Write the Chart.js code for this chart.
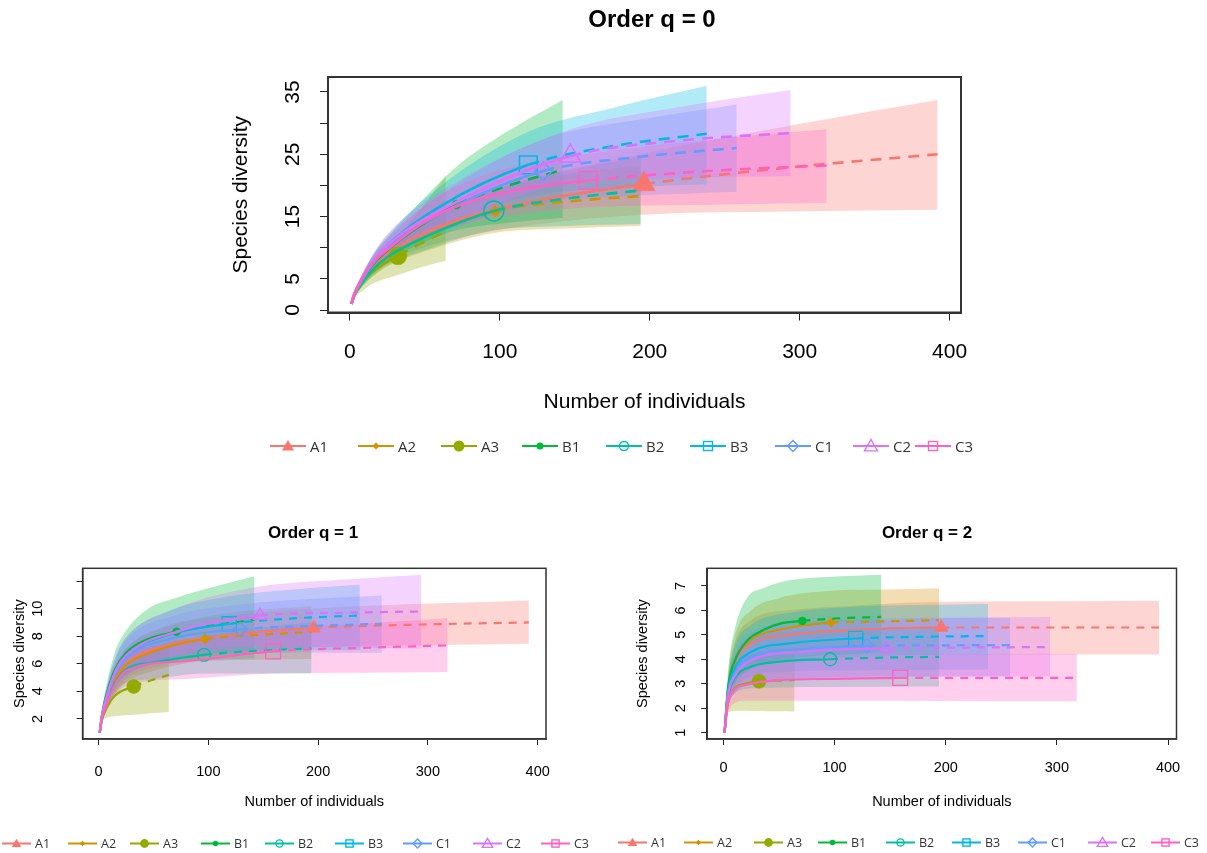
<!DOCTYPE html>
<html><head><meta charset="utf-8">
<script src="https://cdn.jsdelivr.net/npm/chart.js@4.4.1/dist/chart.umd.min.js"></script>
<style>
body{margin:0;background:#fff;}
#page{position:relative;width:1207px;height:853px;overflow:hidden;font-family:"Liberation Sans",Arial,sans-serif;background:#fff;}
canvas{position:absolute;left:0;top:0;}
.title{position:absolute;font-weight:bold;color:#000;transform:translate(-50%,-50%);white-space:nowrap;}
.leg{position:absolute;display:flex;align-items:center;white-space:nowrap;color:#333;font-family:"Open Sans",sans-serif;transform:translateY(-50%);}
.leg svg{display:block;margin-right:4px;}
</style></head>
<body><div id="page">
<canvas id="c0" width="1207" height="853"></canvas>
<canvas id="c1" width="1207" height="853"></canvas>
<canvas id="c2" width="1207" height="853"></canvas>
<div class="title" style="left:652px;top:19px;font-size:24px">Order q = 0</div>
<div class="title" style="left:313px;top:533px;font-size:17px">Order q = 1</div>
<div class="title" style="left:927px;top:533px;font-size:17px">Order q = 2</div>
</div>
<script>
// ---------------- DATA ----------------
const groups = ['A1','A2','A3','B1','B2','B3','C1','C2','C3'];
const sampleSize = [196, 97, 32, 71, 96, 119, 129, 147, 159];
const xTicks = [0, 100, 200, 300, 400];
const xTickLabels = ['0', '100', '200', '300', '400'];
const q0YTicks = [0, 5, 10, 15, 20, 25, 30, 35];
const q0YLabels = ['0', '5', '', '15', '', '25', '', '35'];
const q1YTicks = [2, 4, 6, 8, 10, 12];
const q1YLabels = ['2', '4', '6', '8', '10', ''];
const q2YTicks = [1, 2, 3, 4, 5, 6, 7];
const q2YLabels = ['1', '2', '3', '4', '5', '6', '7'];

// Order q = 0 : sample sizes, estimates, lower and upper bounds
const q0X = [
  [1, 3, 8, 15, 25, 60, 120, 196, 294, 392],
  [1, 3, 8, 15, 25, 50, 97, 145, 194],
  [1, 3, 8, 15, 32, 48, 64],
  [1, 3, 8, 15, 25, 45, 71, 106, 142],
  [1, 3, 8, 15, 25, 50, 96, 145, 194],
  [1, 3, 8, 15, 25, 60, 119, 178, 238],
  [1, 3, 8, 15, 25, 65, 129, 194, 258],
  [1, 3, 8, 15, 25, 70, 147, 220, 294],
  [1, 3, 8, 15, 25, 50, 80, 120, 159, 238, 318]
];
const q0Est = [
  [1, 2.4, 4.4, 6.6, 9.0, 13.4, 17.3, 20.2, 22.9, 25.0],
  [1, 2.4, 4.3, 6.3, 8.4, 11.8, 15.9, 17.4, 18.3],
  [1, 2.3, 4.3, 6.1, 8.7, 10.8, 12.6],
  [1, 2.5, 4.7, 7.2, 9.6, 13.2, 16.9, 20.0, 22.5],
  [1, 2.4, 4.3, 6.4, 8.5, 11.7, 15.9, 17.9, 19.2],
  [1, 2.6, 4.9, 7.6, 10.4, 16.6, 23.3, 26.4, 28.3],
  [1, 2.5, 4.8, 7.3, 10.0, 16.0, 22.3, 24.6, 26.0],
  [1, 2.6, 4.9, 7.6, 10.4, 17.2, 24.7, 27.2, 28.4],
  [1, 2.6, 5.0, 7.5, 9.7, 14.2, 17.4, 19.6, 20.8, 22.3, 23.2]
];
const q0Lo = [
  [1, 2.1, 3.8, 5.6, 7.6, 10.8, 13.6, 15.3, 15.8, 16.1],
  [1, 2.1, 3.7, 5.3, 7.0, 9.4, 12.4, 13.1, 13.5],
  [1, 2.0, 3.0, 4.2, 5.6, 6.9, 7.9],
  [1, 2.2, 4.0, 6.0, 7.8, 10.4, 12.8, 14.0, 14.8],
  [1, 2.1, 3.7, 5.4, 7.2, 9.6, 12.8, 13.5, 13.8],
  [1, 2.3, 4.2, 6.4, 8.8, 13.4, 18.2, 19.6, 20.2],
  [1, 2.2, 4.1, 6.2, 8.4, 12.8, 17.2, 18.4, 19.0],
  [1, 2.3, 4.2, 6.4, 8.6, 14.0, 20.4, 21.2, 21.5],
  [1, 2.3, 4.3, 6.4, 8.2, 11.6, 14.0, 15.6, 16.5, 16.9, 17.2]
];
const q0Hi = [
  [1, 2.7, 5.0, 7.6, 10.4, 16.0, 21.0, 25.1, 29.6, 33.7],
  [1, 2.7, 4.9, 7.3, 9.8, 14.2, 19.4, 21.8, 23.2],
  [1, 2.6, 5.6, 8.0, 11.8, 16.4, 21.5],
  [1, 2.8, 5.4, 8.6, 11.6, 16.8, 23.0, 28.8, 33.7],
  [1, 2.7, 4.9, 7.4, 9.8, 13.8, 19.0, 22.3, 24.6],
  [1, 2.9, 5.6, 8.8, 12.0, 19.8, 28.6, 32.6, 36.0],
  [1, 2.8, 5.5, 8.4, 11.6, 19.2, 27.4, 30.6, 33.0],
  [1, 2.9, 5.6, 8.8, 12.2, 20.4, 29.0, 32.6, 35.3],
  [1, 2.9, 5.7, 8.6, 11.2, 16.8, 20.8, 23.6, 25.1, 27.3, 29.0]
];

// Order q = 1
const q1X = [
  [1, 3, 8, 15, 25, 60, 120, 196, 294, 392],
  [1, 3, 8, 15, 25, 50, 97, 145, 194],
  [1, 3, 8, 15, 32, 48, 64],
  [1, 3, 8, 15, 25, 45, 71, 106, 142],
  [1, 3, 8, 15, 25, 50, 96, 145, 194],
  [1, 3, 8, 15, 25, 60, 119, 178, 238],
  [1, 3, 8, 15, 25, 65, 129, 194, 258],
  [1, 3, 8, 15, 25, 70, 147, 220, 294],
  [1, 3, 8, 15, 25, 80, 159, 238, 318]
];
const q1Est = [
  [1, 2.1, 3.6, 4.9, 6.0, 7.3, 8.1, 8.6, 8.85, 9.0],
  [1, 2.1, 3.5, 4.8, 5.9, 6.9, 7.8, 8.1, 8.3],
  [1, 1.9, 2.9, 3.7, 4.35, 4.8, 5.2],
  [1, 2.3, 4.0, 5.6, 6.8, 7.8, 8.33, 8.8, 9.2],
  [1, 2.0, 3.3, 4.6, 5.6, 6.1, 6.65, 6.95, 7.1],
  [1, 2.2, 3.8, 5.4, 6.6, 8.0, 8.9, 9.3, 9.5],
  [1, 2.2, 3.7, 5.2, 6.4, 7.8, 8.5, 8.75, 8.9],
  [1, 2.2, 3.8, 5.4, 6.6, 8.3, 9.5, 9.7, 9.8],
  [1, 2.0, 3.2, 4.5, 5.5, 6.2, 6.9, 7.15, 7.33]
];
const q1Lo = [
  [1, 1.9, 3.0, 4.0, 4.9, 5.9, 6.7, 7.2, 7.35, 7.45],
  [1, 1.9, 2.9, 3.9, 4.7, 5.5, 6.2, 6.3, 6.35],
  [1, 1.7, 2.1, 2.2, 2.3, 2.4, 2.5],
  [1, 2.0, 3.2, 4.3, 5.2, 5.9, 6.2, 6.3, 6.4],
  [1, 1.8, 2.8, 3.8, 4.6, 4.9, 5.3, 5.3, 5.3],
  [1, 1.9, 3.1, 4.4, 5.3, 6.3, 6.9, 7.0, 7.0],
  [1, 1.9, 3.0, 4.2, 5.1, 6.2, 6.7, 6.8, 6.8],
  [1, 1.9, 3.1, 4.4, 5.3, 6.6, 7.3, 7.2, 7.1],
  [1, 1.8, 2.7, 3.6, 4.4, 4.9, 5.3, 5.35, 5.4]
];
const q1Hi = [
  [1, 2.3, 4.2, 5.8, 7.1, 8.7, 9.5, 10.0, 10.35, 10.6],
  [1, 2.3, 4.1, 5.7, 7.1, 8.3, 9.4, 9.9, 10.2],
  [1, 2.1, 3.7, 5.2, 6.4, 6.8, 7.1],
  [1, 2.6, 4.8, 6.9, 8.4, 10.0, 10.8, 11.6, 12.35],
  [1, 2.2, 3.8, 5.4, 6.6, 7.3, 8.0, 8.6, 9.0],
  [1, 2.5, 4.5, 6.4, 7.9, 9.7, 10.9, 11.4, 11.74],
  [1, 2.5, 4.4, 6.2, 7.7, 9.4, 10.3, 10.7, 10.96],
  [1, 2.5, 4.5, 6.4, 7.9, 10.0, 11.6, 12.1, 12.47],
  [1, 2.2, 3.7, 5.4, 6.6, 7.5, 8.5, 8.9, 9.3]
];

// Order q = 2
const q2X = [
  [1, 4, 10, 25, 60, 120, 196, 294, 392],
  [1, 4, 10, 25, 50, 97, 145, 194],
  [1, 4, 10, 20, 32, 48, 64],
  [1, 4, 10, 21, 36, 51, 71, 106, 142],
  [1, 4, 10, 25, 50, 96, 145, 194],
  [1, 4, 10, 25, 60, 119, 178, 238],
  [1, 4, 10, 25, 65, 129, 194, 258],
  [1, 4, 10, 25, 70, 147, 220, 294],
  [1, 4, 10, 21, 50, 100, 159, 238, 318]
];
const q2Est = [
  [1, 2.6, 3.8, 4.6, 5.0, 5.2, 5.3, 5.3, 5.3],
  [1, 2.7, 3.9, 4.8, 5.2, 5.5, 5.55, 5.6],
  [1, 2.2, 2.8, 3.0, 3.1, 3.13, 3.15],
  [1, 2.8, 3.9, 4.75, 5.2, 5.46, 5.57, 5.68, 5.73],
  [1, 2.4, 3.2, 3.7, 3.9, 4.0, 4.07, 4.1],
  [1, 2.6, 3.6, 4.3, 4.65, 4.85, 4.92, 4.95],
  [1, 2.5, 3.4, 4.1, 4.4, 4.55, 4.57, 4.58],
  [1, 2.5, 3.3, 3.95, 4.3, 4.45, 4.48, 4.5],
  [1, 2.2, 2.76, 2.96, 3.15, 3.2, 3.24, 3.24, 3.24]
];
const q2Lo = [
  [1, 2.2, 3.0, 3.6, 3.9, 4.1, 4.2, 4.2, 4.2],
  [1, 2.2, 3.0, 3.6, 3.9, 4.1, 4.2, 4.2],
  [1, 1.8, 1.9, 1.9, 1.88, 1.87, 1.86],
  [1, 2.3, 3.0, 3.5, 3.8, 4.0, 4.1, 4.2, 4.3],
  [1, 2.0, 2.6, 2.8, 2.85, 2.87, 2.88, 2.89],
  [1, 2.1, 2.8, 3.3, 3.5, 3.55, 3.57, 3.58],
  [1, 2.0, 2.6, 3.0, 3.2, 3.3, 3.3, 3.3],
  [1, 2.0, 2.6, 3.0, 3.2, 3.3, 3.3, 3.3],
  [1, 1.8, 2.2, 2.3, 2.3, 2.3, 2.3, 2.28, 2.28]
];
const q2Hi = [
  [1, 3.0, 4.6, 5.6, 6.0, 6.2, 6.35, 6.37, 6.39],
  [1, 3.2, 4.9, 6.0, 6.5, 6.8, 6.85, 6.9],
  [1, 2.6, 3.7, 4.1, 4.2, 4.2, 4.2],
  [1, 3.4, 5.2, 6.5, 6.9, 7.15, 7.3, 7.4, 7.46],
  [1, 2.9, 4.1, 4.8, 5.1, 5.2, 5.3, 5.35],
  [1, 3.1, 4.5, 5.4, 5.9, 6.15, 6.22, 6.26],
  [1, 3.0, 4.2, 5.1, 5.5, 5.65, 5.7, 5.7],
  [1, 3.0, 4.1, 4.9, 5.4, 5.6, 5.7, 5.73],
  [1, 2.6, 3.3, 3.6, 3.9, 4.1, 4.2, 4.22, 4.23]
];

// ---------------- STYLE ----------------
const colors = ['#F8766D','#D39200','#93AA00','#00BA38','#00C19F','#00B9E3','#619CFF','#DB72FB','#FF61C3'];
const markerStyle = ['triangle','rectRot','circle','circle','circle','rect','rectRot','triangle','rect'];
const markerFilled = [true, true, true, true, false, false, false, false, false];
const markerSizeBig = [13, 6, 9, 4.5, 10, 12.5, 9, 12, 12.5];
const markerSizeSmall = [8, 5, 7, 4, 6.5, 10, 7, 7.5, 10.5];

function hexA(hex, a) {
  const r = parseInt(hex.slice(1,3),16), g = parseInt(hex.slice(3,5),16), b = parseInt(hex.slice(5,7),16);
  return `rgba(${r},${g},${b},${a})`;
}

Chart.defaults.font.family = '"Liberation Sans", Arial, sans-serif';
Chart.defaults.color = '#000';

function buildDatasets(X, EST, LO, HI, st) {
  const ds = [];
  groups.forEach((g, s) => {
    const n = sampleSize[s];
    const col = colors[s];
    const lowIdx = ds.length;
    ds.push({label: g + ' lower', data: X[s].map((x, i) => ({x, y: LO[s][i]})),
      borderColor: 'rgba(0,0,0,0)', borderWidth: 0, pointRadius: 0, fill: false,
      cubicInterpolationMode: 'monotone', order: 300});
    ds.push({label: g + ' upper', data: X[s].map((x, i) => ({x, y: HI[s][i]})),
      borderColor: 'rgba(0,0,0,0)', borderWidth: 0, pointRadius: 0,
      fill: lowIdx, backgroundColor: hexA(col, st.alpha),
      cubicInterpolationMode: 'monotone', order: 200 - s});
    ds.push({label: g, data: X[s].map((x, i) => ({x, y: EST[s][i]})),
      borderColor: col, borderWidth: st.lw, fill: false, cubicInterpolationMode: 'monotone',
      segment: {borderDash: c => (c.p0.parsed.x >= n - 0.01 ? st.dash : undefined)},
      pointRadius: c => (c.raw && c.raw.x === n ? st.sizes[s] : 0),
      pointHoverRadius: 0,
      pointStyle: markerStyle[s],
      pointBackgroundColor: markerFilled[s] ? col : 'rgba(0,0,0,0)',
      pointBorderColor: col,
      pointBorderWidth: markerFilled[s] ? 0.5 : st.mlw,
      order: 100 - s});
  });
  return ds;
}

const framePlugin = {
  id: 'frame',
  afterDatasetsDraw(chart) {
    const a = chart.chartArea, ctx = chart.ctx;
    ctx.save();
    ctx.strokeStyle = '#333';
    ctx.lineWidth = chart.options.plugins.frame.lw;
    ctx.strokeRect(a.left, a.top, a.right - a.left, a.bottom - a.top);
    ctx.restore();
  }
};

function makeChart(id, X, EST, LO, HI, cfg) {
  return new Chart(document.getElementById(id), {
    type: 'line',
    data: {datasets: buildDatasets(X, EST, LO, HI, cfg.st)},
    plugins: [framePlugin],
    options: {
      responsive: false, animation: false, events: [],
      layout: {padding: cfg.pad},
      plugins: {legend: {display: false}, tooltip: {enabled: false}, frame: {lw: cfg.frameLw}},
      scales: {
        x: {type: 'linear', min: cfg.xMin, max: cfg.xMax,
          afterFit: s => { s.height = cfg.xH; },
          afterBuildTicks: s => { s.ticks = xTicks.map(v => ({value: v})); },
          grid: {drawOnChartArea: false, drawTicks: true, tickLength: cfg.tl, color: '#222', lineWidth: 1},
          border: {display: true, color: '#333', width: cfg.frameLw},
          ticks: {font: {size: cfg.tickFs}, color: '#000', padding: cfg.xPad, maxRotation: 0, autoSkip: false,
            callback: (v, i) => xTickLabels[i]},
          title: {display: true, text: 'Number of individuals', font: {size: cfg.titleFs}, color: '#000', padding: 0}},
        y: {type: 'linear', min: cfg.yMin, max: cfg.yMax,
          afterFit: s => { s.width = cfg.yW; },
          afterBuildTicks: s => { s.ticks = cfg.yTicks.map(v => ({value: v})); },
          grid: {drawOnChartArea: false, drawTicks: true, tickLength: cfg.tl, color: '#222', lineWidth: 1},
          border: {display: true, color: '#333', width: cfg.frameLw},
          ticks: {font: {size: cfg.tickFs}, color: '#000', padding: cfg.yPad, minRotation: 90, maxRotation: 90,
            crossAlign: 'center', autoSkip: false, callback: (v, i) => cfg.yLabels[i]},
          title: {display: true, text: 'Species diversity', font: {size: cfg.titleFs}, color: '#000', padding: 0}}
      }
    }
  });
}

makeChart('c0', q0X, q0Est, q0Lo, q0Hi, {
  st: {alpha: 0.3, lw: 2.6, dash: [11, 8], mlw: 1.5, sizes: markerSizeBig},
  pad: {left: 228.4, top: 77, right: 246, bottom: 438.4},
  xMin: -14.6, xMax: 407.6, yMin: -0.4, yMax: 37.4,
  xH: 102.1, yW: 99.6, tl: 8, tickFs: 21, titleFs: 21, xPad: 19, yPad: 15.3, frameLw: 2,
  yTicks: q0YTicks, yLabels: q0YLabels
});
makeChart('c1', q1X, q1Est, q1Lo, q1Hi, {
  st: {alpha: 0.3, lw: 2.2, dash: [8, 7], mlw: 1.3, sizes: markerSizeSmall},
  pad: {left: 11, top: 568.3, right: 661, bottom: 42.3},
  xMin: -14.6, xMax: 407.6, yMin: 0.54, yMax: 12.93,
  xH: 71.7, yW: 71.6, tl: 6, tickFs: 14.5, titleFs: 14.5, xPad: 18.3, yPad: 30.8, frameLw: 1.5,
  yTicks: q1YTicks, yLabels: q1YLabels
});
makeChart('c2', q2X, q2Est, q2Lo, q2Hi, {
  st: {alpha: 0.3, lw: 2.2, dash: [8, 7], mlw: 1.3, sizes: markerSizeSmall},
  pad: {left: 634.3, top: 568.3, right: 30.5, bottom: 42.3},
  xMin: -14.6, xMax: 407.6, yMin: 0.74, yMax: 7.72,
  xH: 71.7, yW: 72.9, tl: 6, tickFs: 14.5, titleFs: 14.5, xPad: 14.3, yPad: 16.2, frameLw: 1.5,
  yTicks: q2YTicks, yLabels: q2YLabels
});

// ---------------- LEGENDS ----------------
function markerSVG(s, w, h, big) {
  const col = colors[s], cx = w / 2, cy = h / 2;
  const k = big ? 1 : 0.8;
  let m = '';
  const sw = 1.4;
  switch (s) {
    case 0: { const r = 6 * k; m = `<polygon points="${cx},${cy - r} ${cx + r},${cy + r * 0.75} ${cx - r},${cy + r * 0.75}" fill="${col}"/>`; break; }
    case 1: { const r = 3.5 * k; m = `<polygon points="${cx},${cy - r} ${cx + r},${cy} ${cx},${cy + r} ${cx - r},${cy}" fill="${col}"/>`; break; }
    case 2: m = `<circle cx="${cx}" cy="${cy}" r="${5.5 * k}" fill="${col}"/>`; break;
    case 3: m = `<circle cx="${cx}" cy="${cy}" r="${3.5 * k}" fill="${col}"/>`; break;
    case 4: m = `<circle cx="${cx}" cy="${cy}" r="${4.5 * k}" fill="none" stroke="${col}" stroke-width="${sw}"/>`; break;
    case 5: case 8: { const r = 4.5 * k; m = `<rect x="${cx - r}" y="${cy - r}" width="${2 * r}" height="${2 * r}" fill="none" stroke="${col}" stroke-width="${sw}"/>`; break; }
    case 6: { const r = 5.5 * k; m = `<polygon points="${cx},${cy - r} ${cx + r},${cy} ${cx},${cy + r} ${cx - r},${cy}" fill="none" stroke="${col}" stroke-width="${sw}"/>`; break; }
    case 7: { const r = 6.5 * k; m = `<polygon points="${cx},${cy - r} ${cx + r},${cy + r * 0.75} ${cx - r},${cy + r * 0.75}" fill="none" stroke="${col}" stroke-width="${sw}"/>`; break; }
  }
  return `<svg width="${w}" height="${h}" viewBox="0 0 ${w} ${h}"><line x1="0" y1="${cy}" x2="${w}" y2="${cy}" stroke="${col}" stroke-width="2"/>${m}</svg>`;
}
const legendDefs = [
  {y: 446, fs: 15, w: 36, big: true, x: [270, 358, 441, 522, 606, 690, 775, 853, 915]},
  {y: 843, fs: 12.5, w: 29, big: false, x: [2, 68, 130, 201, 265, 335, 403, 473, 541]},
  {y: 842, fs: 12.5, w: 29, big: false, x: [618, 684, 754, 818, 886, 952, 1018, 1088, 1151]}
];
const page = document.getElementById('page');
legendDefs.forEach(L => {
  groups.forEach((g, s) => {
    const d = document.createElement('div');
    d.className = 'leg';
    d.style.left = L.x[s] + 'px';
    d.style.top = L.y + 'px';
    d.style.fontSize = L.fs + 'px';
    d.innerHTML = markerSVG(s, L.w, 16, L.big) + '<span>' + g + '</span>';
    page.appendChild(d);
  });
});
</script>
</body></html>
